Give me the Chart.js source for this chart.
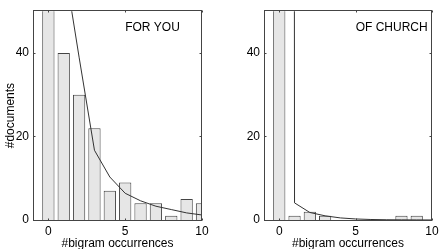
<!DOCTYPE html>
<html>
<head>
<meta charset="utf-8">
<script src="https://cdn.jsdelivr.net/npm/chart.js@4/dist/chart.umd.min.js"></script>
<style>
    body { margin: 0; background: #fff; }
    .panel { position: absolute; top: 0; }
</style>
</head>
<body>
<div class="panel" style="left:0"><canvas id="chart-left" width="220" height="249"></canvas></div>
<div class="panel" style="left:220px"><canvas id="chart-right" width="223" height="249"></canvas></div>
<script>
// datos
const occurrences = [0, 1, 2, 3, 4, 5, 6, 7, 8, 9, 10];
const docsForYou = [60, 40, 30, 22, 7, 9, 4, 4, 1, 5, 4];
const docsOfChurch = [90, 1, 2, 1, 0, 0, 0, 0, 1, 1, 0];

const fitXForYou = [1, 2, 3, 4, 5, 6, 7, 8, 9, 10];
const fitForYou = [62, 39, 16.7, 10.3, 6.4, 4.6, 3.3, 2.5, 1.7, 1.2];
const fitXOfChurch = [0, 1, 2, 3, 4, 5, 6, 7, 8, 9, 10];
const fitOfChurch = [5000, 4.1, 1.8, 1.0, 0.5, 0.25, 0.12, 0.06, 0.04, 0.02, 0.01];

const xTicks = [0, 5, 10];
const yTicks = [0, 20, 40];
const titles = ['FOR YOU', 'OF CHURCH'];

const FONT = { family: '"Liberation Sans", Arial, sans-serif', size: 12 };

const marcoPlugin = {
    id: 'marco',
    afterDraw: function (chart) {
        const ctx = chart.ctx;
        const a = chart.chartArea;
        const xs = chart.scales.x;
        const ys = chart.scales.y;
        const l = Math.round(a.left) + 0.5, r = Math.round(a.right) - 0.5;
        const t = Math.round(a.top) - 0.5, b = Math.round(a.bottom) + 0.5;
        ctx.save();
        ctx.strokeStyle = '#444';
        ctx.lineWidth = 1;
        ctx.strokeRect(l, t, r - l, b - t);
        ctx.beginPath();
        yTicks.forEach(function (v) {
            const y = Math.round(ys.getPixelForValue(v)) + 0.5;
            ctx.moveTo(l, y); ctx.lineTo(l + 2, y);
            ctx.moveTo(r, y); ctx.lineTo(r - 2, y);
        });
        xTicks.forEach(function (v) {
            const x = Math.round(xs.getPixelForValue(v)) + 0.5;
            ctx.moveTo(x, b); ctx.lineTo(x, b - 2);
            ctx.moveTo(x, t); ctx.lineTo(x, t + 2);
        });
        ctx.stroke();
        // etiqueta del bigrama
        ctx.fillStyle = '#000';
        ctx.font = FONT.size + 'px ' + FONT.family;
        ctx.textAlign = 'left';
        ctx.textBaseline = 'middle';
        ctx.fillText(chart.options.plugins.marco.texto, xs.getPixelForValue(5), ys.getPixelForValue(46));
        ctx.restore();
    }
};

function crearPanel(id, counts, fitX, fitY, texto, yWidth, padRight, conTitulo) {
    new Chart(document.getElementById(id).getContext('2d'), {
        type: 'bar',
        data: {
            datasets: [{
                type: 'line',
                data: fitX.map(function (x, i) { return { x: x, y: fitY[i] }; }),
                borderColor: '#333',
                borderWidth: 1,
                pointRadius: 0,
                tension: 0,
                order: 0
            }, {
                type: 'bar',
                data: occurrences.map(function (x, i) { return { x: x, y: counts[i] }; }),
                backgroundColor: '#e6e6e6',
                borderColor: '#444',
                borderWidth: 1,
                barPercentage: 0.8,
                categoryPercentage: 1,
                order: 1
            }]
        },
        options: {
            responsive: false,
            animation: false,
            layout: { padding: { top: 10, right: padRight, left: 0, bottom: 0 } },
            plugins: {
                legend: { display: false },
                tooltip: { enabled: false },
                marco: { texto: texto }
            },
            scales: {
                x: {
                    type: 'linear',
                    min: -1,
                    max: 10,
                    offset: false,
                    grid: { display: false, drawTicks: false },
                    border: { display: false },
                    afterBuildTicks: function (s) { s.ticks = xTicks.map(function (v) { return { value: v }; }); },
                    afterFit: function (s) { s.height = 29; },
                    ticks: { color: '#000', font: FONT, padding: 4, maxRotation: 0, autoSkip: false },
                    title: { display: true, text: '#bigram occurrences', color: '#000', font: FONT, padding: { top: 0, bottom: -2 } }
                },
                y: {
                    min: 0,
                    max: 50,
                    grid: { display: false, drawTicks: false },
                    border: { display: false },
                    afterBuildTicks: function (s) { s.ticks = yTicks.map(function (v) { return { value: v }; }); },
                    afterFit: function (s) { s.width = yWidth; },
                    ticks: { color: '#000', font: FONT, padding: 4 },
                    title: { display: conTitulo, text: '#documents', color: '#000', font: FONT, padding: { top: 3, bottom: 0 } }
                }
            }
        },
        plugins: [marcoPlugin]
    });
}

crearPanel('chart-left', docsForYou, fitXForYou, fitForYou, titles[0], 33, 18, true);
crearPanel('chart-right', docsOfChurch, fitXOfChurch, fitOfChurch, titles[1], 44, 11, false);
</script>
</body>
</html>
